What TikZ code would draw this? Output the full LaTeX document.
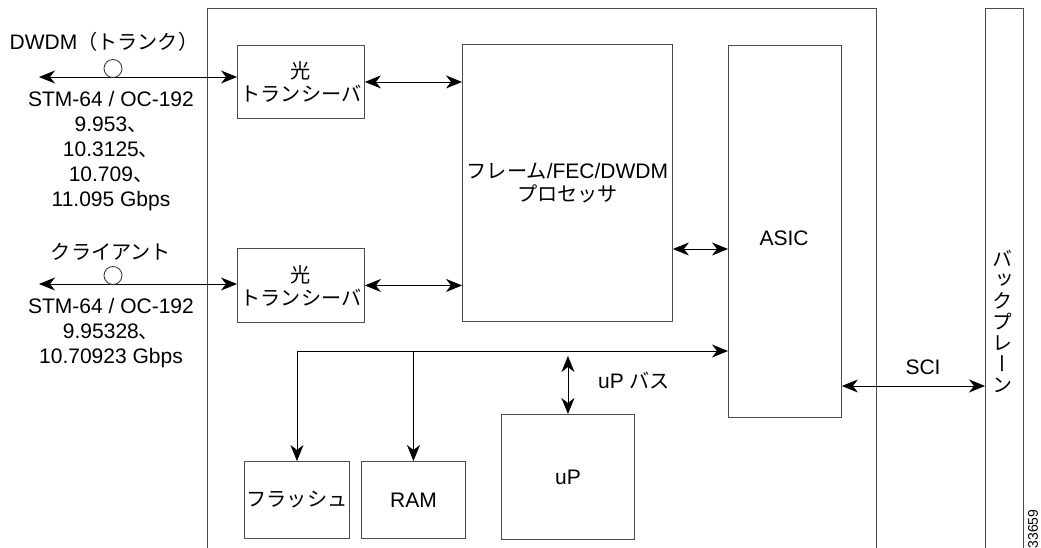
\documentclass[tikz,border=0pt]{standalone}
\usepackage{fontspec}
\setmainfont{Liberation Sans}
\newfontfamily\jp[Scale=0.96]{Noto Sans CJK JP}
\newfontfamily\jpv[Scale=0.96,RawFeature=+vert]{Noto Sans CJK JP}
\usetikzlibrary{arrows.meta}
\begin{document}
\begin{tikzpicture}[x=1pt,y=-1pt,
  box/.style={draw=black!70, line width=0.9pt, rectangle, inner sep=0pt, anchor=north west, align=center, font=\fontsize{21}{23}\selectfont},
  lbl/.style={inner sep=0pt, align=center, font=\fontsize{21}{25}\selectfont},
  conn/.style={line width=0.8pt, draw=black},
  tip/.style={-{Stealth[length=16pt,width=13pt,inset=5pt]}},
  both/.style={{Stealth[length=16pt,width=13pt,inset=5pt]}-{Stealth[length=16pt,width=13pt,inset=5pt]}},
  ring/.style={circle, draw=black!80, fill=white, line width=0.8pt, minimum size=18pt, inner sep=0pt},
]
\useasboundingbox (0,0) rectangle (1041,548);

% board and backplane
\node[box, minimum width=669pt, minimum height=570pt] (board) at (207,8) {};
\node[box, minimum width=38pt, minimum height=570pt] (bp) at (985,8) {};

% blocks
\node[box, minimum width=127pt, minimum height=73pt] (t1) at (237,45) {{\jp 光}\\{\jp トランシーバ}};
\node[box, minimum width=127pt, minimum height=74pt] (t2) at (237,248) {{\jp 光}\\{\jp トランシーバ}};
\node[box, minimum width=210pt, minimum height=277pt] (fr) at (462,44) {{\jp フレーム}/FEC/DWDM\\{\jp プロセッサ}};
\node[box, minimum width=113pt, minimum height=372pt] (asic) at (728,45) {};
\node[lbl] (asiclbl) at (784,238) {ASIC};
\node[box, minimum width=105pt, minimum height=77pt] (fl) at (244,461) {{\jp フラッシュ}};
\node[box, minimum width=104pt, minimum height=77pt] (ram) at (361,461) {RAM};
\node[box, minimum width=133pt, minimum height=125pt] (up) at (501,414) {uP};

% left labels
\node[lbl] (dwdm) at (104,42) {DWDM{\jp （トランク）}};
\node[lbl] (dwdmr) at (111,151.5) {STM-64 / OC-192\\9.953{\jp 、}\\10.3125{\jp 、}\\10.709{\jp 、}\\11.095 Gbps};
\node[lbl] (cli) at (111,252) {{\jp クライアント}};
\node[lbl] (clir) at (111,333) {STM-64 / OC-192\\9.95328{\jp 、}\\10.70923 Gbps};

% connectors
\coordinate (dl) at (39,77);
\coordinate (cl) at (39,284);
\draw[conn,both] (dl) -- (dl -| t1.west);
\draw[conn,both] (cl) -- (cl -| t2.west);
\node[ring] (c1) at (113,68.5) {};
\node[ring] (c2) at (113,275.5) {};
\draw[conn,both] (t1.east) -- (t1.east -| fr.west);
\draw[conn,both] (t2.east) -- (t2.east -| fr.west);
\coordinate (fa) at (700,249);
\draw[conn,both] (fr.east |- fa) -- (asic.west |- fa);
\coordinate (busy) at (0,351);
\draw[conn,both] (fl.north) -- (fl.north |- busy) -- (asic.west |- busy);
\draw[conn,tip] (ram.north |- busy) -- (ram.north);
\coordinate (upb) at (0,356);
\draw[conn,both] (up.north |- upb) -- (up.north);
\coordinate (sciy) at (0,386);
\draw[conn,both] (asic.east |- sciy) -- (bp.west |- sciy);

\node[lbl] (scil) at (923,367) {SCI};
\node[lbl] (upbus) at (634,381) {uP {\jp バス}};
\node[lbl, font=\jpv\fontsize{21}{21}\selectfont] (bpl) at (1003,321) {バ\\ッ\\ク\\プ\\レ\\ー\\ン};
\node[rotate=90, inner sep=0pt, font=\fontsize{14}{14}\selectfont] (fig) at (1033,529) {33659};
\end{tikzpicture}
\end{document}
